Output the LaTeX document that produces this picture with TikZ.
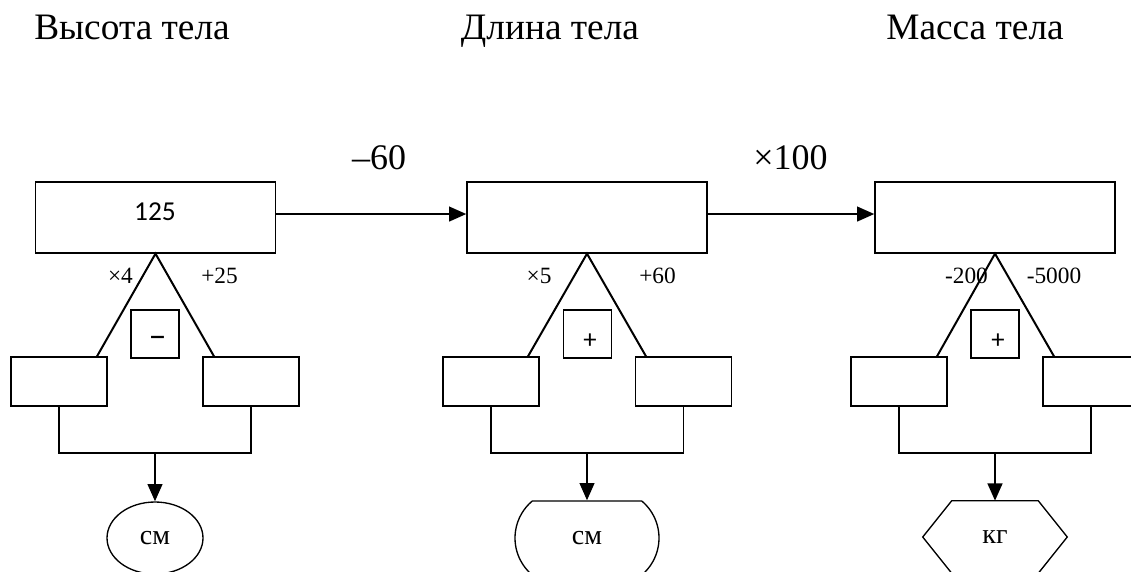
\documentclass[tikz,border=0pt]{standalone}
\usepackage{fontspec}
\setmainfont{Liberation Serif}
\newfontfamily\carlito{Carlito}
\usetikzlibrary{arrows.meta,shapes.geometric,shapes.misc,calc}
\begin{document}
\begin{tikzpicture}[x=0.75pt,y=-0.75pt,
  mainbox/.style={draw,line width=1pt,minimum width=180pt,minimum height=53.25pt,inner sep=0pt},
  smallbox/.style={draw,line width=1pt,minimum width=72pt,minimum height=36.75pt,inner sep=0pt},
  opbox/.style={draw,line width=1pt,minimum width=36pt,minimum height=36pt,inner sep=0pt},
  leg/.style={line width=1.5pt},
  fork/.style={line width=1pt},
  flow/.style={line width=1.8pt,-{Triangle[length=13pt,width=11pt]}},
  heading/.style={font=\fontsize{28}{32}\selectfont,anchor=base,inner sep=0pt},
  bigop/.style={font=\fontsize{27}{32}\selectfont,anchor=base,inner sep=0pt},
  oplabel/.style={font=\fontsize{17.5}{20}\selectfont,anchor=base,inner sep=0pt},
  numtext/.style={font=\carlito\fontsize{20.5}{24}\selectfont,inner sep=0pt},
  optext/.style={font=\carlito\fontsize{20}{24}\selectfont,inner sep=0pt},
  unit/.style={draw,line width=1pt,inner sep=0pt,font=\fontsize{21}{24}\selectfont}
]
\clip (0,0) rectangle (1131,571);

% headings
\node[heading] (h1) at (132,39) {Высота тела};
\node[heading] (h2) at (550,39) {Длина тела};
\node[heading] (h3) at (975,39) {Масса тела};

% operations between the main boxes
\node[bigop] (t12) at (379,169) {–60};
\node[bigop] (t23) at (790.5,169) {×100};

% ---------- first group ----------
\node[mainbox] (b1) at (155.5,217.5) {};
\node[numtext] (v1) at (155,212) {125};
\node[smallbox] (l1) at (59,381.5) {};
\node[smallbox] (r1) at (251,381.5) {};
\node[opbox] (o1) at (155,334) {};
\node[optext,font=\carlito\fontsize{27}{30}\selectfont] (s1) at (157.5,342) {–};
\draw[leg] ($(l1.north)+(38,0)$) -- (b1.south) -- ($(r1.north)+(-37,0)$);
\node[oplabel] (ml1) at (120.5,283) {×4};
\node[oplabel] (mr1) at (219.5,283) {+25};
\coordinate (j1) at (155,453);
\draw[fork] (l1.south) |- (j1) -| (r1.south);
\node[unit,ellipse,minimum width=72pt,minimum height=54pt] (u1) at (155,538) {см};
\draw[flow] (j1) -- (u1.north);

% ---------- second group ----------
\node[mainbox] (b2) at (587,217.5) {};
\node[smallbox] (l2) at (491,381.5) {};
\node[smallbox] (r2) at (683.5,381.5) {};
\node[opbox] (o2) at (587.5,334) {};
\node[optext] (s2) at (590,341) {+};
\draw[leg] ($(l2.north)+(37,0)$) -- (b2.south) -- ($(r2.north)+(-37.5,0)$);
\node[oplabel] (ml2) at (539,283) {×5};
\node[oplabel] (mr2) at (657.5,283) {+60};
\coordinate (j2) at (587,453);
\draw[fork] (l2.south) |- (j2) -| (r2.south);
\node[unit,rounded rectangle,rounded rectangle arc length=100,minimum width=108pt,minimum height=55.5pt] (u2) at (587,538) {см};
\draw[flow] (j2) -- (u2.north);

% ---------- third group ----------
\node[mainbox] (b3) at (995,217.5) {};
\node[smallbox] (l3) at (899,381.5) {};
\node[smallbox] (r3) at (1091,381.5) {};
\node[opbox] (o3) at (995,334) {};
\node[optext] (s3) at (998,341) {+};
\draw[leg] ($(l3.north)+(38,0)$) -- (b3.south) -- ($(r3.north)+(-37,0)$);
\node[oplabel] (ml3) at (966.5,283) {-200};
\node[oplabel] (mr3) at (1054,283) {-5000};
\coordinate (j3) at (995,453);
\draw[fork] (l3.south) |- (j3) -| (r3.south);
\node[inner sep=0pt,minimum width=108pt,minimum height=54pt,font=\fontsize{21}{24}\selectfont] (u3) at (995,537) {кг};
\draw[line width=1pt] ([xshift=21.75pt]u3.north west) -- ([xshift=-21.75pt]u3.north east)
  -- (u3.east) -- ([xshift=-21.75pt]u3.south east) -- ([xshift=21.75pt]u3.south west)
  -- (u3.west) -- cycle;
\draw[flow] (j3) -- (u3.north);

% arrows between the main boxes
\draw[flow] ([yshift=2.6pt]b1.east) -- ([yshift=2.6pt]b2.west);
\draw[flow] ([yshift=2.6pt]b2.east) -- ([yshift=2.6pt]b3.west);
\end{tikzpicture}
\end{document}
